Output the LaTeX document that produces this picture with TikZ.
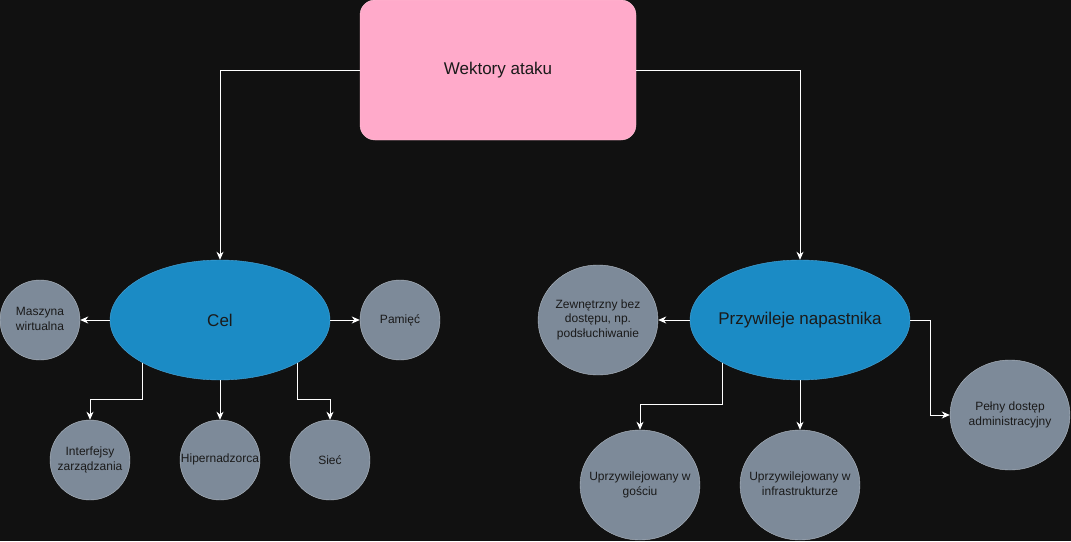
\documentclass[tikz,border=0pt]{standalone}
\usepackage{fontspec}
\setmainfont{Liberation Sans}
\usetikzlibrary{shapes.geometric, arrows.meta}

\definecolor{bgdark}{HTML}{111111}
\definecolor{pinkfill}{HTML}{FFAACA}
\definecolor{pinkline}{HTML}{FFC4D8}
\definecolor{bluefill}{HTML}{1B8BC5}
\definecolor{blueline}{HTML}{4AA6DA}
\definecolor{grayfill}{HTML}{7D8A99}
\definecolor{grayline}{HTML}{B3BCC6}
\definecolor{textdark}{HTML}{1A1A1A}

% text that may stick out of a narrow box, kept centred
\newcommand{\circtext}[1]{\makebox[50pt]{\begin{tabular}{@{}c@{}}#1\end{tabular}}}

\begin{document}
\begin{tikzpicture}[
    x=1pt, y=-1pt, % pixel grid, y going down
    every node/.style={text=textdark, font=\fontsize{12}{14.4}\selectfont, align=center},
    root/.style={rectangle, rounded corners=15pt, draw=pinkline, fill=pinkfill, minimum width=276pt, minimum height=140pt, font=\fontsize{17}{20}\selectfont},
    group/.style={ellipse, draw=blueline, fill=bluefill, minimum width=220pt, minimum height=120pt, inner sep=0pt, font=\fontsize{17}{20}\selectfont},
    leaf/.style={circle, draw=grayline, fill=grayfill, minimum size=80pt, inner sep=0pt},
    bigleaf/.style={ellipse, draw=grayline, fill=grayfill, minimum width=120pt, minimum height=110pt, inner sep=0pt},
    link/.style={draw=white, line width=1pt, -{Stealth[length=8pt, width=7pt, inset=2.5pt]}}
  ]
  \useasboundingbox (0,0) rectangle (1071,541);
  \fill[bgdark] (0,0) rectangle (1071,541);

  \node[root] (wektory) at (498,70) {Wektory ataku};

  % left branch
  \node[group] (cel) at (220,320) {Cel};
  \node[leaf] (maszyna) at (40,320) {\circtext{Maszyna\\wirtualna}};
  \node[leaf] (pamiec) at (400,320) {Pamięć};
  \node[leaf] (interfejsy) at (90,460) {\circtext{Interfejsy\\zarządzania}};
  \node[leaf] (hiper) at (220,460) {\circtext{Hipernadzorca}};
  \node[leaf] (siec) at (330,460) {Sieć};

  % right branch
  \node[group] (przywileje) at (800,320) {\makebox[140pt]{Przywileje napastnika}};
  \node[bigleaf] (zewn) at (598,320) {\circtext{Zewnętrzny bez\\dostępu, np.\\podsłuchiwanie}};
  \node[bigleaf] (goscia) at (640,485) {\circtext{Uprzywilejowany w\\gościu}};
  \node[bigleaf] (infra) at (800,485) {\circtext{Uprzywilejowany w\\infrastrukturze}};
  \node[bigleaf] (admin) at (1010,415) {\circtext{Pełny dostęp\\administracyjny}};

  \draw[link] (wektory.west) -| (cel.north);
  \draw[link] (wektory.east) -| (przywileje.north);

  \draw[link] (cel.west) -- (maszyna.east);
  \draw[link] (cel.east) -- (pamiec.west);
  \draw[link] (cel.south west) |- ([yshift=20pt]interfejsy.north) -- (interfejsy.north);
  \draw[link] (cel.south) -- (hiper.north);
  \draw[link] (cel.south east) |- ([yshift=20pt]siec.north) -- (siec.north);

  \draw[link] (przywileje.west) -- (zewn.east);
  \draw[link] (przywileje.south west) |- ([yshift=25pt]goscia.north) -- (goscia.north);
  \draw[link] (przywileje.south) -- (infra.north);
  \draw[link] (przywileje.east) -- ++(20,0) |- (admin.west);
\end{tikzpicture}
\end{document}
